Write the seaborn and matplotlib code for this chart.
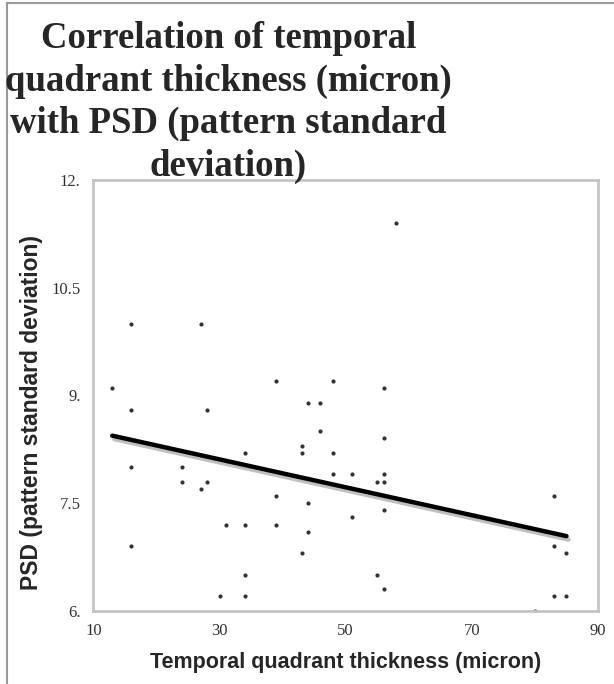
import matplotlib
matplotlib.use("Agg")
import matplotlib.pyplot as plt
import matplotlib.patheffects as pe
from matplotlib.lines import Line2D
import pandas as pd
import seaborn as sns

# temporal quadrant thickness (micron) vs PSD
thickness = [13, 16, 16, 16, 16, 24, 24, 27, 27, 28, 28, 30, 31, 34, 34, 34, 34,
             39, 39, 39, 43, 43, 43, 44, 44, 44, 46, 46, 48, 48, 48, 51, 51,
             55, 55, 56, 56, 56, 56, 56, 56, 58, 80, 83, 83, 83, 85, 85]
psd = [9.1, 10.0, 8.8, 8.0, 6.9, 8.0, 7.8, 10.0, 7.7, 8.8, 7.8, 6.2, 7.2, 8.2, 7.2, 6.5, 6.2,
       9.2, 7.6, 7.2, 8.3, 8.2, 6.8, 8.9, 7.5, 7.1, 8.9, 8.5, 9.2, 8.2, 7.9, 7.9, 7.3,
       7.8, 6.5, 9.1, 8.4, 7.9, 7.8, 7.4, 6.3, 11.4, 6.0, 7.6, 6.9, 6.2, 6.8, 6.2]

x_ticks = [10, 30, 50, 70, 90]
y_ticks = [6, 7.5, 9, 10.5, 12]
y_tick_labels = ["6.", "7.5", "9.", "10.5", "12."]

title_lines = ["Correlation of temporal", "quadrant thickness (micron)",
               "with PSD (pattern standard", "deviation)"]

df = pd.DataFrame({"thickness": thickness, "psd": psd})

sns.set_style("white")
grey = "#c4c4c4"

fig = plt.figure(figsize=(6.14, 6.84), dpi=100)
ax = fig.add_axes([0.152, 0.107, 0.822, 0.63])

sns.regplot(data=df, x="thickness", y="psd", ci=None, ax=ax,
            scatter_kws={"s": 9, "color": "black", "linewidths": 0},
            line_kws={"color": "black", "lw": 3.2,
                      "path_effects": [pe.SimpleLineShadow(offset=(1.5, -2.5), shadow_color="grey", alpha=0.5),
                                       pe.Normal()]})

ax.set_xlim(10, 90)
ax.set_ylim(6, 12)
ax.set_xticks(x_ticks)
ax.set_xticklabels([str(t) for t in x_ticks])
ax.set_yticks(y_ticks)
ax.set_yticklabels(y_tick_labels)
ax.tick_params(direction="inout", length=8, width=1.5, color=grey, labelsize=12,
               labelcolor="#333333", pad=5)
for lab in ax.get_xticklabels() + ax.get_yticklabels():
    lab.set_family("Liberation Serif")
for sp in ax.spines.values():
    sp.set_color(grey)
    sp.set_linewidth(2)

ax.set_xlabel("Temporal quadrant thickness (micron)", family="Liberation Sans",
              fontweight="bold", fontsize=15.5, labelpad=9)
ax.set_ylabel("PSD (pattern standard deviation)", family="Liberation Sans",
              fontweight="bold", fontsize=16.5)
ax.yaxis.set_label_coords(-0.1, 0.46)

# title, one text per line so each line keeps its own box
for i, line in enumerate(title_lines):
    y_px = 48 + i * 42.5
    fig.text(0.372, 1 - y_px / 684, line, ha="center", va="baseline",
             family="Liberation Serif", fontweight="bold", fontsize=26.5)

# outer frame of the picture
fig.add_artist(Line2D([0.012, 0.012], [0, 0.996], transform=fig.transFigure, color="#999999", lw=1.5))
fig.add_artist(Line2D([0.012, 1], [0.996, 0.996], transform=fig.transFigure, color="#999999", lw=1.5))

fig.savefig("out.png", dpi=100)
